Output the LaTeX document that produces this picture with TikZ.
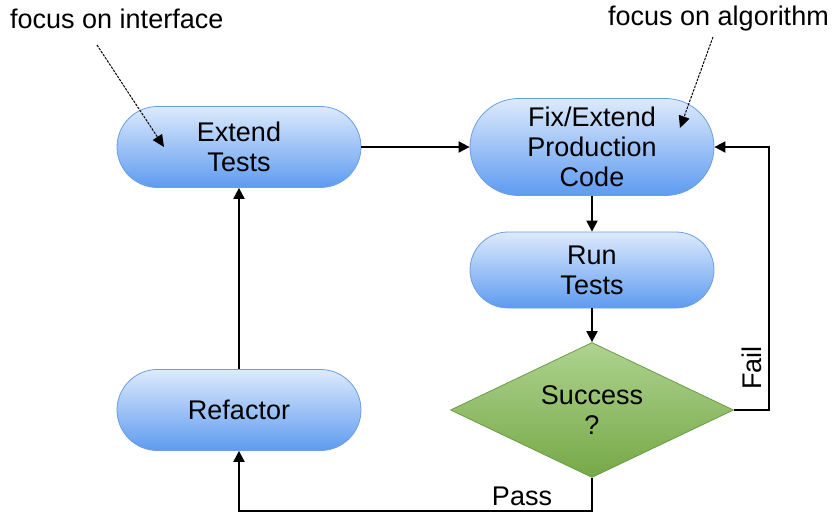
\documentclass[tikz,border=0pt]{standalone}
\usepackage{fontspec}
\setmainfont{Liberation Sans}
\usetikzlibrary{shapes.misc,shapes.geometric,arrows.meta}

\definecolor{boxtop}{HTML}{DDEAFC}
\definecolor{boxbot}{HTML}{5E9BF0}
\definecolor{boxline}{HTML}{6B9EE2}
\definecolor{dtop}{HTML}{AED38F}
\definecolor{dbot}{HTML}{76A847}
\definecolor{dline}{HTML}{6D9A46}

\tikzset{
  bigtext/.style={font=\fontsize{27}{30}\selectfont},
  stepbox/.style={rounded rectangle, draw=boxline, line width=0.8pt,
    top color=boxtop, bottom color=boxbot, minimum width=244pt,
    align=center, bigtext, inner sep=0pt},
  decide/.style={diamond, draw=dline, line width=0.8pt,
    top color=dtop, bottom color=dbot, minimum width=283pt, minimum height=135pt,
    aspect=2.1, inner sep=0pt, align=center, bigtext},
  flow/.style={line width=2pt, -{Triangle[length=11pt,width=11pt]}},
  note/.style={bigtext, inner sep=0pt},
  notearrow/.style={line width=1pt, dash pattern=on 2.5pt off 1.2pt,
    -{Triangle[length=12pt,width=11pt]}},
  lbl/.style={bigtext, inner sep=0pt}
}

\begin{document}
\begin{tikzpicture}[x=1pt,y=-1pt]
\useasboundingbox (0,0) rectangle (835,513);

% process steps
\node[stepbox, minimum height=81pt] (ext) at (239,147) {Extend\\Tests};
\node[stepbox, minimum height=97pt] (fix) at (592,147) {Fix/Extend\\Production\\Code};
\node[stepbox, minimum height=76pt] (run) at (592,270) {Run\\Tests};
\node[decide] (dia) at (592,410) {Success\\?};
\node[stepbox, minimum height=81pt] (ref) at (239,410) {Refactor};

% annotations
\node[note, anchor=west] (fi) at (10,19) {focus on interface};
\node[note, anchor=east] (fa) at (829,19) {focus on algorithm};
\coordinate (fiA) at (97,45);
\coordinate (fiB) at (164,147);
\coordinate (faA) at (713,37);
\coordinate (faB) at (680,128);
\draw[notearrow] (fiA) -- (fiB);
\draw[notearrow] (faA) -- (faB);

% main cycle
\draw[flow] (ext.east) -- (fix.west);
\draw[flow] (fix.south) -- (run.north);
\draw[flow] (run.south) -- (dia.north);
\draw[flow] (dia.east) -- ++(35,0) |- (fix.east);
\draw[flow] (dia.south) -- ++(0,33) -| (ref.south);
\draw[flow] (ref.north) -- (ext.south);

% branch labels
\node[lbl, rotate=90] (fail) at (752,368) {Fail};
\node[lbl] (pass) at (522,496) {Pass};
\end{tikzpicture}
\end{document}
